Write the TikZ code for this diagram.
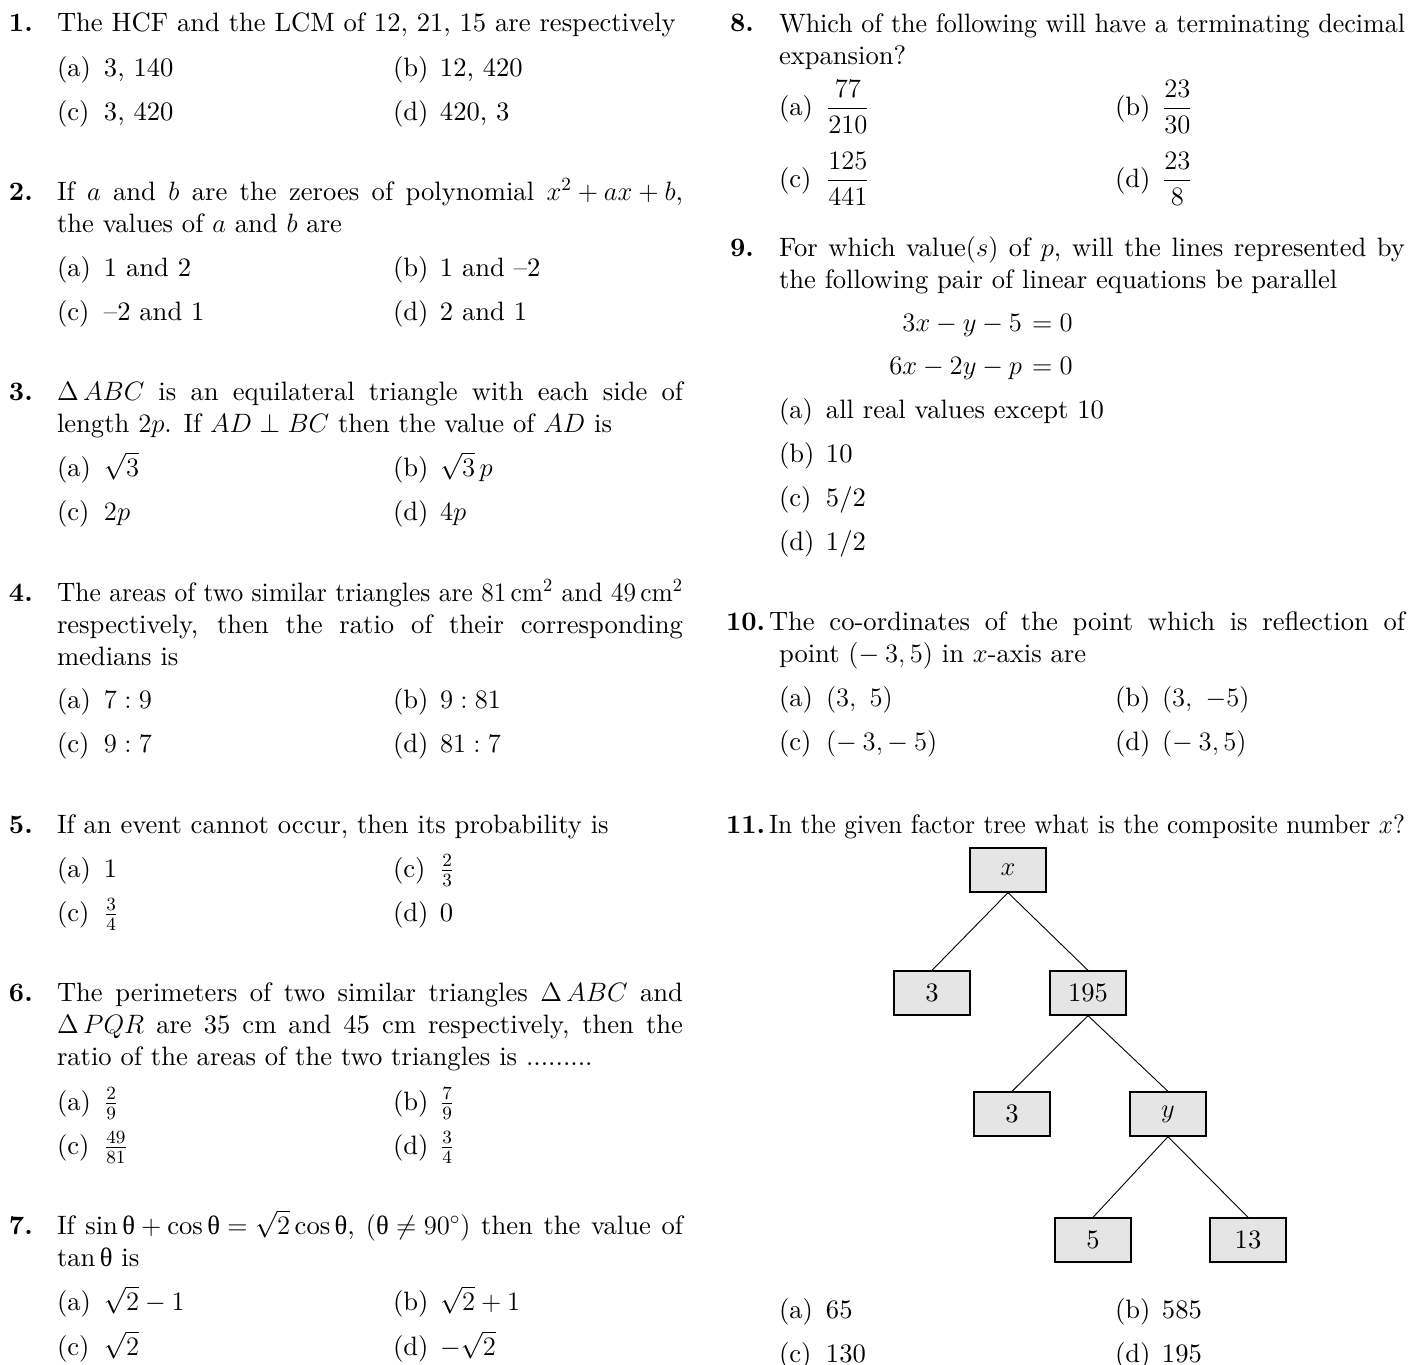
\RequirePackage{fix-cm}
\documentclass[tikz,border=0pt]{standalone}
\usepackage{graphicx}
\usepackage{fontspec}
\setmainfont{lmroman10-regular.otf}[BoldFont=lmroman10-bold.otf, ItalicFont=lmroman10-italic.otf]
\newfontfamily\grk{Liberation Serif}
\newcommand\uth{\mbox{\grk θ}}
\newcommand\fs{\fontsize{13.3}{16}\selectfont}
\newcommand\opt[2]{\makebox[23.5pt][l]{#1}#2}
\newsavebox\jbox
\newcommand\jl[2]{\medmuskip=4mu\relax\thickmuskip=5mu\relax\sbox\jbox{#2}%
  \ifdim\wd\jbox>#1\relax\resizebox{#1}{\height}{\usebox\jbox}\else\makebox[#1][s]{#2}\fi}
\tikzset{
  t/.style={anchor=base west, inner sep=0pt, outer sep=0pt, font=\fs},
  te/.style={anchor=base east, inner sep=0pt, outer sep=0pt, font=\fs},
  qn/.style={anchor=base west, inner sep=0pt, outer sep=0pt, font=\fs\bfseries},
  fbox/.style={draw=black, fill=black!10, line width=0.65pt, minimum width=38pt, minimum height=22pt, inner sep=0pt, font=\fs},
  link/.style={line width=0.45pt}
}
\begin{document}
\begin{tikzpicture}[x=0.5pt,y=-0.5pt]
\useasboundingbox (0,0) rectangle (1421,1365);
% ---------- Left column ----------
% Q1
\node[qn] (n1) at (9,32) {1.};
\node[t] (q1l1) at (57,32) {The HCF and the LCM of 12, 21, 15 are respectively};
\node[t] (q1a) at (57,76) {\opt{(a)}{3, 140}};
\node[t] (q1b) at (393,76) {\opt{(b)}{12, 420}};
\node[t] (q1c) at (57,120) {\opt{(c)}{3, 420}};
\node[t] (q1d) at (393,120) {\opt{(d)}{420, 3}};
% Q2
\node[qn] (n2) at (9,200) {2.};
\node[t] (q2l1) at (57,200) {\jl{313pt}{If $a$ and $b$ are the zeroes of polynomial $x^2+ax+b$,}};
\node[t] (q2l2) at (57,232) {the values of $a$ and $b$ are};
\node[t] (q2a) at (57,276) {\opt{(a)}{1 and 2}};
\node[t] (q2b) at (393,276) {\opt{(b)}{1 and --2}};
\node[t] (q2c) at (57,320) {\opt{(c)}{--2 and 1}};
\node[t] (q2d) at (393,320) {\opt{(d)}{2 and 1}};
% Q3
\node[qn] (n3) at (9,400) {3.};
\node[t] (q3l1) at (57,400) {\jl{313pt}{$\Delta\,ABC$ is an equilateral triangle with each side of}};
\node[t] (q3l2) at (57,432) {length $2p$. If $AD\perp BC$ then the value of $AD$ is};
\node[t] (q3a) at (57,476) {\opt{(a)}{$\sqrt{3}$}};
\node[t] (q3b) at (393,476) {\opt{(b)}{$\sqrt{3}\,p$}};
\node[t] (q3c) at (57,520) {\opt{(c)}{$2p$}};
\node[t] (q3d) at (393,520) {\opt{(d)}{$4p$}};
% Q4
\node[qn] (n4) at (9,601) {4.};
\node[t] (q4l1) at (57,601) {\jl{313pt}{The areas of two similar triangles are $81\,\mathrm{cm}^2$ and $49\,\mathrm{cm}^2$}};
\node[t] (q4l2) at (57,633) {\jl{313pt}{respectively, then the ratio of their corresponding}};
\node[t] (q4l3) at (57,665) {medians is};
\node[t] (q4a) at (57,708) {\opt{(a)}{$7:9$}};
\node[t] (q4b) at (393,708) {\opt{(b)}{$9:81$}};
\node[t] (q4c) at (57,752) {\opt{(c)}{$9:7$}};
\node[t] (q4d) at (393,752) {\opt{(d)}{$81:7$}};
% Q5
\node[qn] (n5) at (9,833) {5.};
\node[t] (q5l1) at (57,833) {If an event cannot occur, then its probability is};
\node[t] (q5a) at (57,877) {\opt{(a)}{1}};
\node[t] (q5b) at (393,877) {\opt{(c)}{$\frac{2}{3}$}};
\node[t] (q5c) at (57,921) {\opt{(c)}{$\frac{3}{4}$}};
\node[t] (q5d) at (393,921) {\opt{(d)}{0}};
% Q6
\node[qn] (n6) at (9,1001) {6.};
\node[t] (q6l1) at (57,1001) {\jl{313pt}{The perimeters of two similar triangles $\Delta\,ABC$ and}};
\node[t] (q6l2) at (57,1033) {\jl{313pt}{$\Delta\,PQR$ are 35 cm and 45 cm respectively, then the}};
\node[t] (q6l3) at (57,1065) {ratio of the areas of the two triangles is .........};
\node[t] (q6a) at (57,1110) {\opt{(a)}{$\frac{2}{9}$}};
\node[t] (q6b) at (393,1110) {\opt{(b)}{$\frac{7}{9}$}};
\node[t] (q6c) at (57,1154) {\opt{(c)}{$\frac{49}{81}$}};
\node[t] (q6d) at (393,1154) {\opt{(d)}{$\frac{3}{4}$}};
% Q7
\node[qn] (n7) at (9,1234) {7.};
\node[t] (q7l1) at (57,1234) {\jl{313pt}{If $\sin\uth+\cos\uth=\sqrt{2}\cos\uth$, $(\uth\neq 90^\circ)$ then the value of}};
\node[t] (q7l2) at (57,1266) {$\tan\uth$ is};
\node[t] (q7a) at (57,1310) {\opt{(a)}{$\sqrt{2}-1$}};
\node[t] (q7b) at (393,1310) {\opt{(b)}{$\sqrt{2}+1$}};
\node[t] (q7c) at (57,1355) {\opt{(c)}{$\sqrt{2}$}};
\node[t] (q7d) at (393,1355) {\opt{(d)}{$-\sqrt{2}$}};
% ---------- Right column ----------
% Q8
\node[qn] (n8) at (730,32) {8.};
\node[t] (q8l1) at (779,32) {\jl{313pt}{Which of the following will have a terminating decimal}};
\node[t] (q8l2) at (779,64) {expansion?};
\node[t] (q8a) at (779,115) {\opt{(a)}{$\displaystyle\frac{77}{210}$}};
\node[t] (q8b) at (1115,115) {\opt{(b)}{$\displaystyle\frac{23}{30}$}};
\node[t] (q8c) at (779,187) {\opt{(c)}{$\displaystyle\frac{125}{441}$}};
\node[t] (q8d) at (1115,187) {\opt{(d)}{$\displaystyle\frac{23}{8}$}};
% Q9
\node[qn] (n9) at (730,256) {9.};
\node[t] (q9l1) at (779,256) {\jl{313pt}{For which value$(s)$ of $p$, will the lines represented by}};
\node[t] (q9l2) at (779,288) {the following pair of linear equations be parallel};
\node[te] (q9e1) at (1022,331) {$3x-y-5$};
\node[t] (q9e1r) at (1032,331) {$=0$};
\node[te] (q9e2) at (1022,374) {$6x-2y-p$};
\node[t] (q9e2r) at (1032,374) {$=0$};
\node[t] (q9a) at (779,418) {\opt{(a)}{all real values except 10}};
\node[t] (q9b) at (779,462) {\opt{(b)}{10}};
\node[t] (q9c) at (779,506) {\opt{(c)}{5/2}};
\node[t] (q9d) at (779,550) {\opt{(d)}{1/2}};
% Q10
\node[qn] (n10) at (726,630) {10.};
\node[t] (q10l1) at (769,630) {\jl{318pt}{The co-ordinates of the point which is reflection of}};
\node[t] (q10l2) at (779,662) {point $(-\:3,5)$ in $x$-axis are};
\node[t] (q10a) at (779,706) {\opt{(a)}{$(3,\ 5)$}};
\node[t] (q10b) at (1115,706) {\opt{(b)}{$(3,\ -5)$}};
\node[t] (q10c) at (779,750) {\opt{(c)}{$(-\:3,-\:5)$}};
\node[t] (q10d) at (1115,750) {\opt{(d)}{$(-\:3,5)$}};
% Q11
\node[qn] (n11) at (726,833) {11.};
\node[t] (q11l1) at (769,833) {\jl{318pt}{In the given factor tree what is the composite number $x$?}};
\node[fbox] (tx) at (1008,870) {$x$};
\node[fbox] (t3) at (932,993) {3};
\node[fbox] (t195) at (1088,993) {195};
\node[fbox] (t3b) at (1012,1114) {3};
\node[fbox] (ty) at (1168,1114) {$y$};
\node[fbox] (t5) at (1093,1240) {5};
\node[fbox] (t13) at (1248,1240) {13};
\draw[link] (tx.south) -- (t3.north);
\draw[link] (tx.south) -- (t195.north);
\draw[link] (t195.south) -- (t3b.north);
\draw[link] (t195.south) -- (ty.north);
\draw[link] (ty.south) -- (t5.north);
\draw[link] (ty.south) -- (t13.north);
\node[t] (q11a) at (779,1318) {\opt{(a)}{65}};
\node[t] (q11b) at (1115,1318) {\opt{(b)}{585}};
\node[t] (q11c) at (779,1362) {\opt{(c)}{130}};
\node[t] (q11d) at (1115,1362) {\opt{(d)}{195}};
\end{tikzpicture}
\end{document}
